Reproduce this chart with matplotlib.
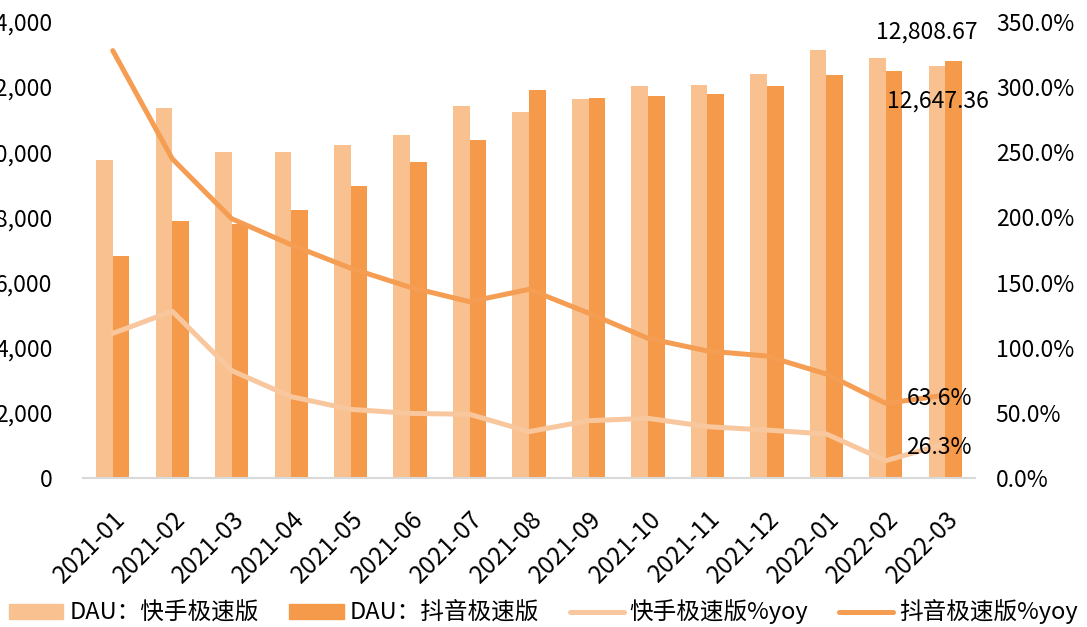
import numpy as np
import matplotlib.pyplot as plt
from matplotlib.lines import Line2D
from matplotlib.patches import Patch
from matplotlib.ticker import FuncFormatter

plt.rcParams['font.family'] = ['Noto Sans CJK SC', 'DejaVu Sans']

months = ['2021-01', '2021-02', '2021-03', '2021-04', '2021-05', '2021-06', '2021-07', '2021-08',
          '2021-09', '2021-10', '2021-11', '2021-12', '2022-01', '2022-02', '2022-03']
dau_ks = [9750, 11350, 10000, 10010, 10230, 10530, 11410, 11240,
          11640, 12030, 12070, 12390, 13140, 12890, 12647.36]
dau_dy = [6820, 7890, 7790, 8230, 8960, 9710, 10390, 11920,
          11670, 11730, 11780, 12040, 12370, 12500, 12808.67]
yoy_ks = [111.0, 128.0, 82.4, 62.4, 52.7, 49.6, 48.9, 35.6,
          44.0, 45.8, 39.4, 36.8, 33.8, 13.3, 26.3]
yoy_dy = [328.0, 245.0, 199.0, 179.0, 161.0, 146.4, 135.3, 144.8,
          126.6, 107.2, 97.5, 93.6, 79.8, 57.3, 63.6]

c_light = '#F8C18F'
c_dark = '#F5994A'
c_lline = '#F9C79E'
c_dline = '#F59D52'

fig = plt.figure(figsize=(10.87, 6.27), dpi=100)
ax = fig.add_axes([0.0764, 0.2376, 0.8206, 0.7274])
ax2 = ax.twinx()

x = np.arange(len(months))
w = 0.28
ax.bar(x - w / 2, dau_ks, w, color=c_light, zorder=2)
ax.bar(x + w / 2, dau_dy, w, color=c_dark, zorder=2)

ax2.plot(x, yoy_ks, color=c_lline, lw=3.6, solid_capstyle='round', solid_joinstyle='round')
ax2.plot(x, yoy_dy, color=c_dline, lw=3.6, solid_capstyle='round', solid_joinstyle='round')

ax.set_xlim(-0.5, len(months) - 0.5)
ax.set_ylim(0, 14000)
ax2.set_ylim(0, 350)
ax.set_yticks(np.arange(0, 14001, 2000))
ax2.set_yticks(np.arange(0, 351, 50))
ax.yaxis.set_major_formatter(FuncFormatter(lambda v, p: f'{v:,.0f}'))
ax2.yaxis.set_major_formatter(FuncFormatter(lambda v, p: f'{v:.1f}%'))

ax.set_xticks(x)
ax.set_xticklabels(months, rotation=45, ha='right', rotation_mode='anchor', fontsize=17.5)
ax.tick_params(axis='x', length=0, pad=20)
ax.tick_params(axis='y', length=0, pad=22, labelsize=16.5)
ax2.tick_params(axis='y', length=0, pad=15, labelsize=16.5)

for a in (ax, ax2):
    for s in ['top', 'right', 'left']:
        a.spines[s].set_visible(False)
ax2.spines['bottom'].set_visible(False)
ax.spines['bottom'].set_color('#D9D9D9')
ax.spines['bottom'].set_linewidth(1.5)

# data labels on last month
ax.annotate(f'{dau_dy[-1]:,.2f}', (x[-1] + w / 2, dau_dy[-1]), xytext=(-27, 29),
            textcoords='offset pixels', ha='center', va='center', fontsize=16.5)
ax.annotate(f'{dau_ks[-1]:,.2f}', (x[-1] - w / 2, dau_ks[-1]), xytext=(1, -35),
            textcoords='offset pixels', ha='center', va='center', fontsize=16.5)
ax2.annotate(f'{yoy_dy[-1]:.1f}%', (x[-1], yoy_dy[-1]), xytext=(-6, -3),
             textcoords='offset pixels', ha='center', va='center', fontsize=16.5)
ax2.annotate(f'{yoy_ks[-1]:.1f}%', (x[-1], yoy_ks[-1]), xytext=(-6, -4),
             textcoords='offset pixels', ha='center', va='center', fontsize=16.5)

handles = [Patch(color=c_light), Patch(color=c_dark),
           Line2D([], [], color=c_lline, lw=3.6, solid_capstyle='round'),
           Line2D([], [], color=c_dline, lw=3.6, solid_capstyle='round')]
labels = ['DAU：快手极速版', 'DAU：抖音极速版', '快手极速版%yoy', '抖音极速版%yoy']
fig.legend(handles, labels, loc='center', bbox_to_anchor=(0.5, 0.024), ncol=4, frameon=False,
           fontsize=17, handlelength=2.3, handleheight=0.6, handletextpad=0.25, columnspacing=1.3)

fig.savefig('out.png', dpi=100)
